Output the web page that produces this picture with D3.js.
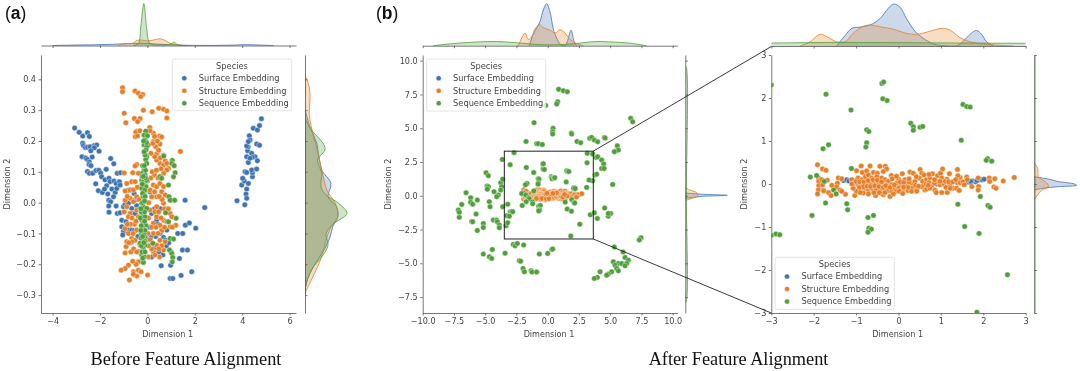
<!DOCTYPE html>
<html><head><meta charset="utf-8">
<script src="https://cdn.jsdelivr.net/npm/d3@7"></script>
<style>
html,body{margin:0;padding:0;background:#fff}
svg{display:block;filter:blur(0.35px)}
text{font-family:"DejaVu Sans",sans-serif;fill:#444}
</style></head><body><svg id="c" width="1080" height="371"></svg>
<script>
const speciesNames=["Surface Embedding","Structure Embedding","Sequence Embedding"];
const speciesColors=["#3f74b2","#e5802a","#4f9f3a"];

// ---- Panel (a): before alignment, [dimension1, dimension2]
const beforeSurface=[[-3.07,.242],[-2.88,.228],[-2.73,.216],[-2.53,.227],[-2.45,.215],[-2.73,.193],[-2.7,.185],[-2.62,.179],[-2.53,.18],[-2.42,.181],[-2.24,.185],[-2.14,.187],[-2.24,.178],[-2.04,.167],[-2.39,.168],[-2.76,.149],[-2.6,.145],[-2.53,.14],[-2.45,.132],[-2.33,.148],[-2.46,.124],[-2.38,.12],[-2.53,.101],[-2.45,.095],[-2.31,.095],[-2.17,.104],[-2.05,.105],[-1.97,.095],[-2.18,.061],[-1.93,.084],[-1.79,.074],[-1.55,.143],[-1.42,.126],[-1.74,.108],[-1.27,.095],[-1.13,.097],[-1.62,.079],[-1.58,.068],[-1.72,.055],[-1.41,.07],[-1.32,.062],[-1.18,.068],[-2.07,.039],[-1.9,.033],[-1.81,.044],[-1.67,.028],[-1.5,.044],[-1.36,.033],[-1.29,.046],[-1.15,.057],[-1.63,.008],[-1.55,.003],[-1.43,.019],[-1.63,-.011],[-1.62,-.031],[-1.27,-.035],[-1.15,-.033],[-1.32,-.011],[-1.01,-.013],[-.94,-.006],[-1.08,-.057],[-.9,-.062],[-.66,.041],[-.56,.03],[-.8,-.002],[-.66,-.019],[-1.08,-.078],[-1.01,-.094],[-1.04,-.105],[-.8,-.089],[-.66,-.089],[-.37,-.159],[-.66,-.035],[-.52,-.035],[.11,.035],[.25,.019],[.18,-.035],[.39,-.057],[.53,-.1],[.68,-.113],[.75,-.122],[.28,-.149],[.39,-.165],[.58,-.205],[.98,-.203],[.96,-.246],[1.07,-.246],[1.42,-.236],[1.87,-.224],[1.35,-.181],[1.48,-.154],[1.69,-.154],[1.28,-.1],[1.49,-.1],[1.6,-.073],[1.77,-.066],[2.04,-.083],[1.59,.008],[2.42,-.016],[.82,-.089],[.6,-.089],[.18,-.176],[-.55,-.09],[-.4,-.11],[-.7,-.13],[-.5,.01],[-.45,-.01],[.3,-.02],[.55,-.02],[.45,-.07],[.35,-.11],[.1,-.08],[.15,-.11],[.5,-.16],[.65,-.17],[.8,-.14],[-.25,-.16],[.02,-.12],[.9,-.13],[1,-.16],[-.8,.04],[3.78,.006],[4.11,-.007],[3.98,.057],[4.09,.07],[4.19,.044],[4.16,.028],[4.19,.014],[4.12,.1],[4.19,.098],[4.02,.079],[4.26,.062],[4.43,.084],[4.43,.097],[4.4,.106],[4.61,.109],[4.26,.13],[4.19,.149],[4.23,.168],[4.25,.181],[4.3,.217],[4.33,.203],[4.19,.184],[4.26,.198],[4.47,.241],[4.64,.236],[4.73,.25],[4.81,.272],[4.4,.16],[4.54,.149],[4.64,.136],[4.61,.19],[4.73,.186],[4.43,.147],[4.33,.144]];
const beforeStructure=[[-1.05,.373],[-1.05,.36],[-.52,.362],[-.38,.355],[-.2,.351],[-.28,.344],[-.98,.29],[-.91,.259],[-.55,.273],[-.31,.273],[-.41,.263],[-.45,.232],[-.49,.228],[-.32,.233],[-.51,.214],[-.42,.216],[-.17,.3],[.2,.295],[.48,.306],[.68,.303],[.82,.297],[.82,.275],[.1,.244],[.25,.225],[.11,.233],[.51,.216],[.6,.213],[.25,.198],[.53,.19],[.35,.181],[.23,.192],[1.39,.166],[.04,.187],[.39,.158],[.68,.154],[.53,.127],[.75,.135],[.68,.122],[.82,.127],[.39,.138],[.31,.149],[-.45,.124],[-.52,.119],[-.38,.095],[-.98,.096],[-.62,.097],[.89,.111],[.82,.106],[.68,.095],[.56,.086],[-.66,.068],[-.52,.068],[-.87,.062],[-.94,.038],[-.73,.041],[-.59,.041],[.25,.057],[.39,.052],[.53,.062],[.68,.052],[.11,.041],[.6,.035],[.75,.025],[.39,.019],[.18,.019],[-.94,.008],[-.73,.014],[-.45,.019],[-.59,.003],[-.87,-.013],[-.98,-.03],[-.73,-.035],[-.8,-.046],[-.45,-.024],[.11,-.024],[.39,-.013],[.68,-.002],[.82,-.03],[.96,-.035],[1.03,-.046],[.39,-.046],[.68,-.057],[.82,-.062],[.96,-.078],[1.2,-.073],[.53,-.073],[.25,-.067],[-.94,-.084],[-.8,-.1],[-.66,-.116],[-.87,-.127],[-.9,-.143],[-.94,-.163],[-.38,-.046],[-.45,-.089],[-.52,-.122],[-.66,-.127],[-.31,-.138],[.25,-.1],[.53,-.122],[.75,-.127],[.39,-.138],[.68,-.154],[.51,-.176],[.25,-.159],[.04,-.176],[-.8,-.203],[-.94,-.214],[-1.11,-.219],[-.59,-.224],[-.38,-.219],[-.52,-.235],[-.45,-.238],[-.59,-.232],[-.76,-.251],[-.27,-.224],[.01,-.235],[-.38,-.192],[-.85,.02],[-.65,-.05],[-.55,-.07],[-.72,-.07],[-.6,-.1],[-.48,-.06],[-.42,.05],[-.35,.01],[-.85,-.07],[-.78,-.13],[-.7,-.16],[-.58,-.15],[-.45,-.16],[-.48,-.2],[-.62,-.19],[0,.07],[.15,.08],[.3,.09],[.45,.08],[.58,.11],[.05,-.05],[.18,-.08],[.32,-.03],[.47,-.03],[.58,-.05],[.72,-.02],[.62,-.09],[.45,-.1],[.36,-.08],[.12,-.12],[.02,-.1],[.6,-.14],[.48,-.15],[.32,-.17],[.18,-.15],[.05,-.14],[.62,.01],[.5,.02],[.3,.035],[.05,0],[.88,-.02],[1.05,-.08],[.72,-.08],[.2,.1],[.38,.105],[.15,.16],[.47,.17],[.55,.145],[.42,.2],[.3,.215],[-.15,.1]];
const beforeSequence=[[-.07,.232],[-.14,.219],[0,.217],[-.1,.203],[-.14,.187],[-.03,.181],[-.06,.171],[-.03,.149],[-.07,.14],[-.03,.127],[-.14,.106],[-.2,.095],[-.1,.09],[-.24,.073],[-.17,.068],[-.03,.073],[-.14,.057],[-.06,.052],[-.24,.046],[-.14,.032],[-.24,-.002],[-.31,-.019],[-.17,-.013],[-.03,-.019],[-.2,-.035],[-.1,-.046],[-.24,-.057],[-.17,-.067],[-.07,-.073],[-.17,-.089],[-.25,-.1],[-.1,-.111],[-.2,-.122],[-.31,-.132],[-.1,-.138],[-.17,-.154],[-.24,-.17],[-.14,-.176],[-.17,-.194],[-.22,.085],[-.08,.105],[-.18,.02],[-.26,-.03],[-.12,-.03],[-.21,-.08],[-.1,-.09],[-.27,-.115],[-.12,-.125],[-.2,-.145],[-.2,.12],[-.13,.12],[-.1,.155],[-.14,.165],[-.04,.195],[-.16,.2],[-.08,.08],[-.17,.085],[-.22,.06],[-.12,.04],[-.2,.03],[-.1,.02],[-.2,0],[-.12,.005],[-.3,-.05],[-.26,-.075],[-.15,-.105],[-.28,-.09],[-.2,-.11],[-.25,-.14],[-.15,-.13],[-.22,-.16],[-.1,-.16],[-.2,-.18],[-.27,-.02],[-.12,-.06],[.69,.151],[1.05,.137],[1.03,.127],[1.13,.12],[1.17,.097],[1.1,.084],[.89,.057],[.53,.084],[.6,.079],[.91,.019],[.96,.008],[1.15,.008],[.77,-.033],[1.21,-.051],[.89,-.062],[.96,-.116],[1.1,-.118],[.93,-.154],[1.03,-.165],[1.07,-.178],[1.05,-.192],[.23,-.132]];

// ---- Panels (b) and (c): after alignment, (c) is the zoomed window of (b)
const afterSurface=[[-1.3,.08],[-1.22,.1],[-1.17,.07],[-1.1,.1],[-1,.09],[-.8,.05],[-.5,.03],[-.2,0],[0,-.02],[.3,-.03],[.6,-.02],[.9,0],[1.2,.02],[1.5,.03],[1.6,.04],[1.7,.03],[1.75,.07],[1.82,.05],[1.9,.1],[1.97,.1],[2.02,.11],[1.85,.08],[1.7,.06]];
const afterStructure=[[-1.91,.45],[-1.79,.35],[-1.71,.32],[-1.89,.14],[-1.88,.06],[-1.88,-.04],[-1.89,-.14],[-1.91,-.23],[-1.81,.1],[-1.79,-.02],[-1.78,-.14],[-1.68,.09],[-1.76,-.16],[-1.65,-.2],[-1.59,-.27],[-1.57,-.03],[-1.44,.02],[-1.46,-.07],[-1.42,.14],[-1.34,.12],[-1.38,-.14],[-1.25,-.24],[-1.34,-.17],[-1.1,.1],[-1.05,.02],[-.99,.31],[-.88,.42],[-.78,.27],[-.67,.42],[-.85,.27],[-.75,.3],[-.59,.27],[-.44,.41],[-.31,.41],[-.28,.35],[-.17,.2],[-.5,.25],[-.36,.29],[-1.03,-.27],[-.99,-.17],[-1.07,-.1],[-1.1,0],[-.95,.14],[-.87,.1],[-.78,.17],[-.71,.21],[-.63,.14],[-.51,.17],[-.4,.14],[-.32,.1],[-.24,.06],[-.95,-.02],[-.87,-.02],[-.77,.03],[-.67,.02],[-.58,.06],[-.48,.02],[-.36,-.02],[-.26,-.04],[-.16,-.02],[-.87,-.14],[-.79,-.1],[-.71,-.14],[-.63,-.1],[-.53,-.14],[-.42,-.12],[-.32,-.14],[-.24,-.15],[-.16,-.17],[-.83,-.21],[-.71,-.23],[-.54,-.27],[-.36,-.25],[-.2,-.29],[-.32,-.2],[-.08,-.1],[0,.11],[.09,.24],[.15,.1],[.27,.28],[.35,.25],[-.04,.02],[.07,-.02],[.19,-.02],[.31,.02],[.39,.06],[.51,.34],[.55,.25],[.6,.21],[.49,.14],[.57,.06],[.66,.1],[.74,.14],[.8,.24],[.92,.19],[.99,.25],[1.04,.35],[1.02,.14],[.92,.06],[1.14,.11],[1.2,.24],[1.39,.34],[1.45,.15],[1.4,.19],[1.39,.03],[1.61,.16],[1.62,.1],[0,-.1],[.11,-.14],[.22,-.15],[.32,-.1],[.43,-.12],[.55,-.06],[.62,-.14],[.78,-.06],[.86,-.14],[.98,-.02],[1.07,0],[1.21,-.02],[1.29,-.1],[1.37,-.1],[1.43,-.15],[.89,-.2],[1.02,-.2],[1.15,-.2],[1.45,.03],[1.73,-.06],[1.88,.14],[1.89,-.06],[1.88,-.14],[2.14,.14],[2.27,.12],[2.15,.06],[2.47,.07],[2.73,.15],[2.25,-.07],[2.3,-.1],[.66,-.12],[.74,-.1],[.31,-.17],[.43,-.17],[-1,.06],[-.92,.05],[-.82,.05],[-.72,.08],[-.6,.1],[-.5,.09],[-.4,.05],[-.92,-.08],[-.82,-.06],[-.74,-.05],[-.66,-.06],[-.56,-.04],[-.46,-.06],[-.36,-.08],[-.3,-.04],[-.2,-.08],[-.1,-.02],[-.06,-.17],[.04,.05],[.12,.03],[.25,.05],[.22,-.08],[.12,-.07],[.02,-.17],[.4,-.03],[.47,-.05],[.65,0],[.72,.03],[.7,-.03],[.85,.02],[.85,.1],[.98,.06],[1.1,.06],[1.18,.05],[1.28,.05],[1.12,-.08],[1.22,-.1],[1.52,.05],[1.55,-.02],[1.35,.1],[-.58,-.2],[-.9,-.2],[-.45,-.2],[-.12,-.23],[.1,-.22],[.25,.12],[.72,.22],[-.15,.12],[-.05,.18],[.42,.17]];
const afterSequence=[[-3,2.3],[-1.71,2.09],[-.39,2.34],[-.35,2.37],[-.37,1.98],[-.27,1.94],[-1.12,1.72],[1.52,1.85],[1.61,1.8],[1.69,1.79],[.29,1.41],[.35,1.33],[.35,1.25],[.51,1.32],[.57,1.34],[-.75,1.26],[-.7,1.22],[-.75,.96],[-.77,.86],[1.48,1.02],[-1.65,.91],[-1.78,.82],[2.1,.59],[2.07,.55],[2.2,.53],[-1.11,.36],[-1.93,.2],[-2.08,.16],[-1.75,.06],[-1.53,-.14],[-1.47,-.23],[-1.72,-.44],[-1.22,-.46],[-1.2,-.6],[-2.04,-.73],[-.72,-.78],[-.59,-.73],[-.7,-1.03],[-.64,-1.05],[-.72,-1.12],[-3,-1.19],[-2.89,-1.16],[-2.8,-1.18],[1.4,-.47],[1.93,-.29],[2.11,-.5],[2.16,-.54],[1.56,-.99],[1.9,-1.15],[2.57,-2.11],[1.85,-2.98],
[.88,7.88],[1.25,7.78],[1.57,7.7],[.8,6.96],[.72,6.79],[-.16,6.69],[-1.09,5.41],[.43,4.99],[.4,4.74],[.4,4.57],[1.89,4.64],[1.92,4.57],[2.35,4.02],[2.64,3.93],[3.36,4.25],[3.52,4.32],[3.73,4.12],[4,4],[4.53,4.32],[4.6,4.27],[6.64,5.73],[6.8,5.48],[-1.73,4.02],[-.88,3.85],[-.75,3.85],[-.43,3.8],[-2.69,3.19],[-3.63,2.69],[3.17,3.14],[3.6,3.09],[3.87,2.84],[4,2.89],[4.32,2.64],[4.48,2.35],[4.32,2.02],[4.51,2.02],[3.79,1.53],[3.92,1.6],[3.6,1.11],[5.2,.84],[5.44,3.31],[5.57,3.7],[5.65,3.38],[5.33,3.26],[-4.93,1.7],[-4.75,1.48],[-4.85,.72],[-4.75,.67],[-4.83,.49],[-3.76,.96],[-3.6,1.23],[-3.68,.67],[-3.76,.42],[-4.29,.3],[-3.95,.05],[-4.08,-.07],[-6.53,.22],[-6.16,-.15],[-6.16,-.49],[-6,-.62],[-5.63,-.32],[-6.88,-.64],[-7.15,-1.06],[-7.07,-1.23],[-7.07,-1.6],[-5.73,-1.36],[-6.08,-1.9],[-6,-1.93],[-5.63,-2.57],[-5.15,-2.05],[-5.15,-2.35],[-4.67,-.44],[-4.61,-.81],[-3.6,-.81],[-4.35,-1.8],[-4.08,-1.8],[-4.03,-1.93],[-3.87,-2.17],[-3.87,-2.37],[-3.2,-.62],[-3.28,-1.48],[-3.33,-2.22],[-3.2,-2],[-3.07,-1.51],[3.41,-1.41],[3.73,-1.26],[3.97,-1.68],[4.56,-.91],[4.85,-1.51],[5.04,-1.31],[4.85,-1.31],[3.12,.62],[3.31,1.16],[3.15,2.44],[-2.75,-3.6],[-2.61,-3.7],[-2.43,-3.53],[-1.92,-3.65],[-3.41,-4.25],[-4.43,-3.98],[-5.15,-4.32],[-4.67,-4.52],[-4.48,-4.64],[-2.27,-4.81],[-2.16,-4.84],[-1.97,-5.38],[-1.87,-5.63],[-1.33,-5.56],[-1.25,-5.65],[-.88,-5.65],[-.67,-4.32],[0,-4.27],[.32,-3.98],[.4,-3.95],[5.33,-3.8],[6.03,-4.17],[7.39,-3.19],[7.47,-3.11],[7.33,-3.28],[5.25,-4.89],[5.65,-5.01],[5.39,-5.14],[5.92,-5.01],[6.19,-4.57],[6.45,-4.77],[6.32,-5.01],[6.19,-5.19],[5.52,-5.38],[5.65,-5.56],[5.12,-5.63],[4.85,-5.8],[4.72,-5.88],[4.19,-5.63],[3.97,-6.05],[3.73,-6.12]];

// ---- Marginal density curves, [axis value, relative density]
const aTopSurface=[[-3.97,0],[-3.12,.01],[-2.28,.015],[-1.43,.03],[-.59,.05],[0,.05],[.53,.03],[1.1,.015],[1.66,.005],[2.79,.002],[3.63,.01],[4.19,.02],[4.75,.01],[5.32,0]];
const aTopStructure=[[-1.22,0],[-1.08,.03],[-.94,.055],[-.8,.04],[-.59,.06],[-.45,.12],[-.24,.13],[-.03,.11],[.25,.13],[.53,.16],[.75,.12],[.96,.05],[1.24,.02],[1.52,0]];
const aTopSequence=[[-.59,0],[-.38,.05],[-.28,.45],[-.15,1],[-.03,.4],[.07,.08],[.18,.03],[.53,.01],[.96,.03],[1.13,.08],[1.27,.02],[1.66,0]];
const aRightSurface=[[.301,0],[.246,.12],[.192,.28],[.149,.33],[.106,.4],[.062,.62],[.019,.55],[-.013,.75],[-.046,.78],[-.078,.66],[-.111,.6],[-.154,.45],[-.197,.25],[-.241,.08],[-.284,0]];
const aRightStructure=[[.414,0],[.376,.1],[.333,.12],[.29,.1],[.246,.15],[.192,.25],[.149,.33],[.095,.42],[.041,.52],[-.002,.72],[-.046,.78],[-.078,.62],[-.122,.5],[-.165,.42],[-.208,.3],[-.251,.15],[-.295,0]];
const aRightSequence=[[.279,0],[.246,.1],[.176,.48],[.138,.3],[.095,.4],[.052,.38],[.025,.5],[-.002,.8],[-.035,1],[-.067,.7],[-.1,.5],[-.138,.55],[-.176,.4],[-.208,.2],[-.262,.03],[-.295,0]];
const bTopSurface=[[-1.47,0],[-1.15,.28],[-.88,.42],[-.61,.58],[-.35,.85],[-.08,1],[.19,.8],[.45,.4],[.72,.18],[1.04,.03],[1.39,0],[1.57,.1],[1.87,.37],[2.11,.1],[2.32,0]];
const bTopStructure=[[-2.35,0],[-2.08,.18],[-1.81,.3],[-1.55,.15],[-1.28,.22],[-1.01,.4],[-.67,.5],[-.35,.43],[.19,.37],[.59,.3],[.99,.38],[1.39,.3],[1.79,.15],[2.32,.05],[2.85,0]];
const bTopSequence=[[-9.15,0],[-7.55,.05],[-6.21,.08],[-4.08,.1],[-2.48,.07],[-.88,.03],[.19,.02],[1.79,.04],[3.92,.1],[4.99,.09],[6.59,.06],[7.92,0]];
const bRightSurface=[[.2,0],[.12,.35],[.03,1],[-.05,.4],[-.2,0]];
const bRightStructure=[[.6,0],[.45,.1],[.2,.28],[0,.3],[-.15,.2],[-.35,0]];
const bRightSequence=[[9.6,0],[9.5,.025],[0,.025],[-7.8,.025],[-7.9,0]];
const cTopSurface=[[-1.46,0],[-1.26,.25],[-1.1,.42],[-.91,.45],[-.67,.5],[-.44,.65],[-.24,.9],[-.11,1],[.04,.92],[.19,.65],[.39,.35],[.59,.18],[.82,.05],[1.21,0],[1.41,.02],[1.61,.2],[1.75,.33],[1.84,.37],[1.96,.28],[2.08,.1],[2.24,0]];
const cTopStructure=[[-2.32,0],[-2.09,.1],[-1.84,.28],[-1.65,.2],[-1.46,.1],[-1.26,.1],[-1.07,.3],[-.87,.45],[-.71,.5],[-.44,.46],[-.12,.4],[.19,.3],[.43,.28],[.74,.35],[1.02,.42],[1.21,.38],[1.45,.2],[1.69,.1],[2,.05],[2.32,.02],[2.71,0]];
const cTopSequence=[[-3,.07],[-1.5,.085],[0,.08],[1.5,.07],[3,.065]];
const cRightSurface=[[.17,0],[.11,.35],[.06,.55],[0,.95],[-.03,1],[-.06,.6],[-.1,.2],[-.14,0]];
const cRightStructure=[[.48,0],[.37,.08],[.17,.1],[.02,.3],[-.07,.33],[-.14,.18],[-.25,.08],[-.37,0]];
const cRightSequence=[[3,.012],[0,.012],[-3,.012]];

// ---- Tick labels
const aXTicks=[-4,-2,0,2,4,6], aYTicks=[-.3,-.2,-.1,0,.1,.2,.3,.4];
const bXTicks=[-10,-7.5,-5,-2.5,0,2.5,5,7.5,10], bYTicks=[-7.5,-5,-2.5,0,2.5,5,7.5,10];
const cXTicks=[-3,-2,-1,0,1,2,3], cYTicks=[-3,-2,-1,0,1,2,3];
const zoomWindowX=[-3.47,3.65], zoomWindowY=[3.3,-3.2];

const svg=d3.select("#c");
const AXIS="#555";
let clipId=0;
function clip(x,y,w,h){const id="cl"+(clipId++);svg.append("clipPath").attr("id",id).append("rect").attr("x",x).attr("y",y).attr("width",w).attr("height",h);return `url(#${id})`;}

function joint(p){
  const x=d3.scaleLinear().domain(p.xDomain).range([p.left,p.right]);
  const y=d3.scaleLinear().domain(p.yDomain).range([p.bottom,p.top]);
  const g=svg.append("g");
  const sz=8.1;
  const dTop=d3.scaleLinear().domain([0,1]).range([p.topBase,p.topBase-p.topH]);
  const dRight=d3.scaleLinear().domain([0,1]).range([p.rightBase,p.rightBase+p.rightW]);
  const topArea=d3.area().x(d=>x(d[0])).y0(p.topBase).y1(d=>dTop(d[1])).curve(d3.curveCatmullRom.alpha(.5));
  const topLine=topArea.lineY1();
  const rightArea=d3.area().y(d=>y(d[0])).x0(p.rightBase).x1(d=>dRight(d[1])).curve(d3.curveCatmullRom.alpha(.5));
  const rightLine=rightArea.lineX1();
  const cTop=clip(p.left,0,p.right-p.left,p.topBase+.5), cRight=clip(p.rightBase,p.top,p.rightW+4,p.bottom-p.top);
  p.tops.forEach((s,i)=>{
    g.append("path").datum(s).attr("d",topArea).attr("fill",speciesColors[i]).attr("fill-opacity",.27).attr("clip-path",cTop);
    g.append("path").datum(s).attr("d",topLine).attr("fill","none").attr("stroke",speciesColors[i]).attr("stroke-width",.8).attr("clip-path",cTop);
  });
  p.rights.forEach((s,i)=>{
    g.append("path").datum(s).attr("d",rightArea).attr("fill",speciesColors[i]).attr("fill-opacity",.27).attr("clip-path",cRight);
    g.append("path").datum(s).attr("d",rightLine).attr("fill","none").attr("stroke",speciesColors[i]).attr("stroke-width",.8).attr("clip-path",cRight);
  });
  const style=a=>{a.selectAll("path,line").attr("stroke",AXIS).attr("stroke-width",.8);a.selectAll("text").attr("font-size",sz).attr("fill","#444").attr("font-family","DejaVu Sans");};
  g.append("g").attr("transform",`translate(0,${p.bottom})`).call(d3.axisBottom(x).tickValues(p.xTicks).tickFormat(p.fmtX).tickSize(2.5).tickSizeOuter(0).tickPadding(3.2)).call(style);
  g.append("g").attr("transform",`translate(${p.left},0)`).call(d3.axisLeft(y).tickValues(p.yTicks).tickFormat(p.fmtY).tickSize(2.5).tickSizeOuter(0).tickPadding(2.5)).call(style);
  g.append("g").attr("transform",`translate(0,${p.topBase})`).call(d3.axisBottom(x).tickValues(p.xTicks).tickFormat("").tickSize(2.5).tickSizeOuter(0)).call(style);
  g.append("g").attr("transform",`translate(${p.rightBase},0)`).call(d3.axisRight(y).tickValues(p.yTicks).tickFormat("").tickSize(2.5).tickSizeOuter(0)).call(style);
  const cMain=clip(p.left,p.top,p.right-p.left,p.bottom-p.top);
  const pts=g.append("g").attr("clip-path",cMain);
  p.series.forEach((s,i)=>{
    pts.selectAll(null).data(s.filter(d=>d[0]>=p.xDomain[0]-.2&&d[0]<=p.xDomain[1]+.2&&d[1]>=p.yDomain[0]-.2&&d[1]<=p.yDomain[1]+.2)).join("circle")
      .attr("cx",d=>x(d[0])).attr("cy",d=>y(d[1])).attr("r",2.75).attr("fill",speciesColors[i]).attr("stroke","#fff").attr("stroke-width",.4);
  });
  g.append("text").attr("x",p.xLabelX).attr("y",p.xLabelY).attr("text-anchor","middle").attr("font-size",sz).text("Dimension 1");
  g.append("text").attr("transform",`translate(${p.yLabelX},${(p.top+p.bottom)/2}) rotate(-90)`).attr("text-anchor","middle").attr("font-size",sz).text("Dimension 2");
  const L=p.legend, lg=g.append("g");
  lg.append("rect").attr("x",L.x).attr("y",L.y).attr("width",L.w).attr("height",L.h).attr("fill","#fff").attr("fill-opacity",.8).attr("stroke","#ddd").attr("stroke-width",.8).attr("rx",1.5);
  lg.append("text").attr("x",L.x+L.w/2).attr("y",L.y+9.7).attr("text-anchor","middle").attr("font-size",L.fs).text("Species");
  speciesNames.forEach((n,i)=>{
    const ry=L.y+19.2+i*12.5;
    lg.append("circle").attr("cx",L.x+12).attr("cy",ry).attr("r",2.5).attr("fill",speciesColors[i]).attr("stroke","#fff").attr("stroke-width",.3);
    lg.append("text").attr("x",L.x+26.4).attr("y",ry+2.9).attr("font-size",L.fs).text(n);
  });
  return {x,y};
}

const f1=d3.format(".1f"), f0=d3.format("d");
joint({xDomain:[-4.49,6.27],yDomain:[-.358,.479],left:41,right:296,top:55,bottom:313,topBase:45.5,topH:42,rightBase:305,rightW:42,
  xTicks:aXTicks,yTicks:aYTicks,fmtX:f0,fmtY:f1,xLabelX:167.7,xLabelY:337,yLabelX:9.5,
  series:[beforeSurface,beforeStructure,beforeSequence],tops:[aTopSurface,aTopStructure,aTopSequence],rights:[aRightSurface,aRightStructure,aRightSequence],
  legend:{x:172.3,y:59,w:119.4,h:51.7,fs:8.25}});
const B=joint({xDomain:[-10,10.37],yDomain:[-8.68,10.42],left:422.7,right:677.3,top:55,bottom:313,topBase:45.7,topH:42,rightBase:685.3,rightW:42,
  xTicks:bXTicks,yTicks:bYTicks,fmtX:f1,fmtY:f1,xLabelX:549,xLabelY:337,yLabelX:391,
  series:[afterSurface,afterStructure,afterSequence],tops:[bTopSurface,bTopStructure,bTopSequence],rights:[bRightSurface,bRightStructure,bRightSequence],
  legend:{x:426.7,y:59,w:119,h:52,fs:8.25}});
joint({xDomain:[-3,3],yDomain:[-3,3],left:771.3,right:1025.7,top:55,bottom:313,topBase:46,topH:42,rightBase:1034.3,rightW:42.3,
  xTicks:cXTicks,yTicks:cYTicks,fmtX:f0,fmtY:f0,xLabelX:897.7,xLabelY:337,yLabelX:747,
  series:[afterSurface,afterStructure,afterSequence],tops:[cTopSurface,cTopStructure,cTopSequence],rights:[cRightSurface,cRightStructure,cRightSequence],
  legend:{x:775,y:257.3,w:119.3,h:52,fs:8.25}});

const wx0=B.x(zoomWindowX[0]),wx1=B.x(zoomWindowX[1]),wy0=B.y(zoomWindowY[0]),wy1=B.y(zoomWindowY[1]);
svg.append("rect").attr("x",wx0).attr("y",wy0).attr("width",wx1-wx0).attr("height",wy1-wy0).attr("fill","none").attr("stroke","#222").attr("stroke-width",1);
svg.append("line").attr("x1",wx1).attr("y1",wy0).attr("x2",771.3).attr("y2",46.5).attr("stroke","#222").attr("stroke-width",.9);
svg.append("line").attr("x1",wx1).attr("y1",wy1).attr("x2",771.3).attr("y2",313).attr("stroke","#222").attr("stroke-width",.9);

const cap=(x,t)=>svg.append("text").attr("x",x).attr("y",365).attr("text-anchor","middle").attr("font-size",18.3).style("font-family","'Liberation Serif',serif").style("fill","#111").text(t);
cap(186,"Before Feature Alignment");cap(738.5,"After Feature Alignment");
const tag=(x,l)=>{const t=svg.append("text").attr("x",x).attr("y",19).attr("font-size",17.5).style("font-family","'Liberation Sans',sans-serif").style("fill","#111");
 t.append("tspan").text("(");t.append("tspan").attr("font-weight","bold").text(l);t.append("tspan").text(")");};
tag(5,"a");tag(376,"b");
</script></body></html>
